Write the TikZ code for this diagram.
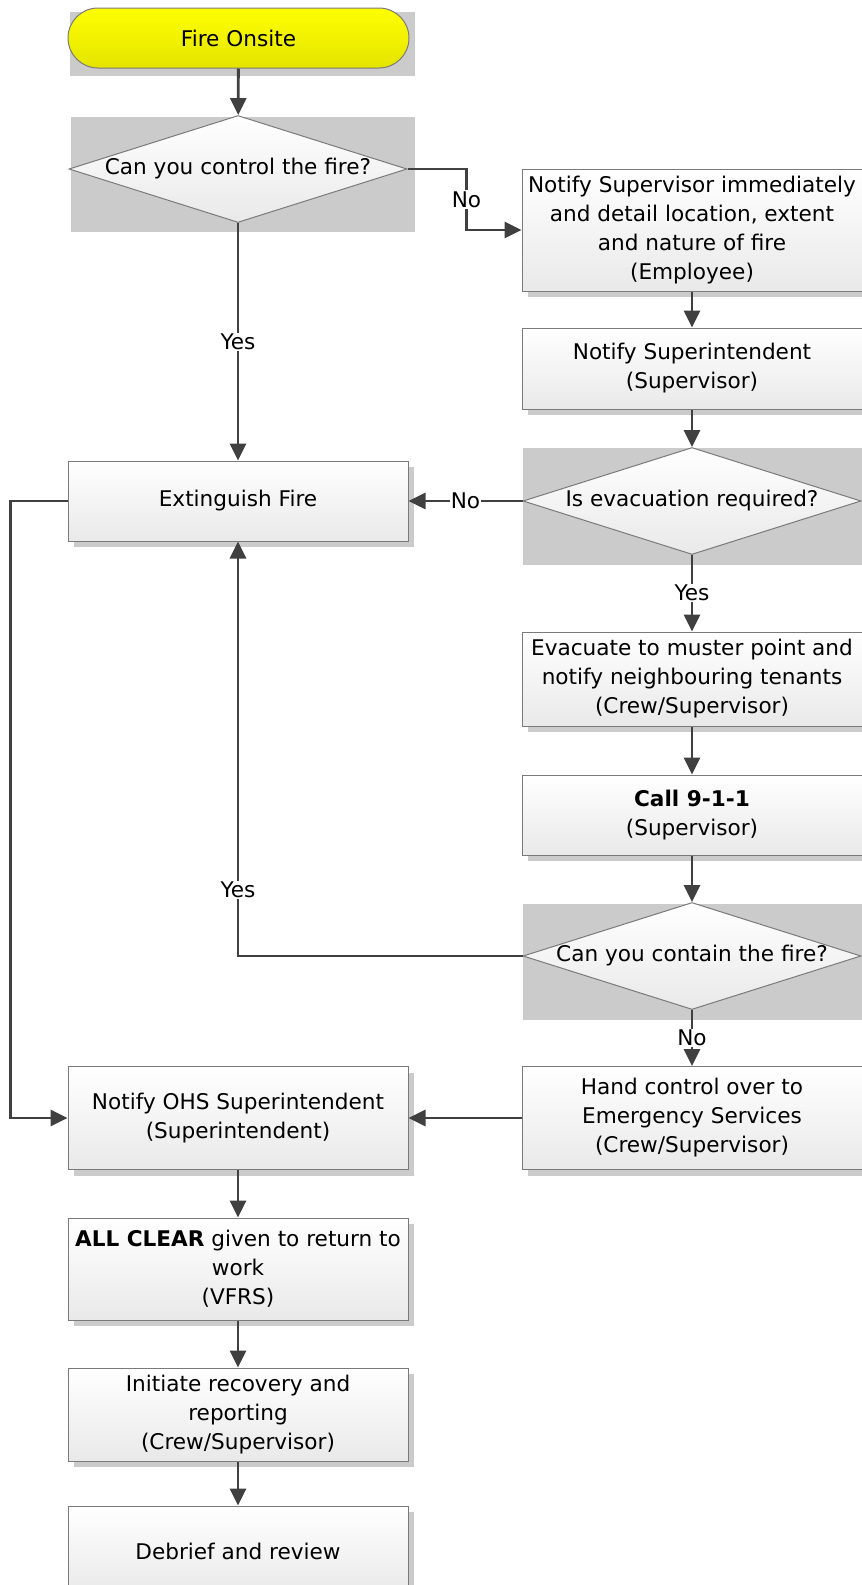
\documentclass[tikz,border=0pt]{standalone}
\usepackage{fontspec}
\setmainfont{DejaVu Sans}
\usetikzlibrary{arrows.meta,shapes.geometric,shadows,calc,backgrounds}
\definecolor{linegray}{HTML}{404040}
\definecolor{edgegray}{HTML}{7A7A7A}
\definecolor{shadegray}{HTML}{CBCBCB}
\definecolor{boxbottom}{HTML}{E9E9E9}
\definecolor{fireyellow}{HTML}{FFFF00}
\definecolor{fireyellowdark}{HTML}{E4E400}
\begin{document}
\begin{tikzpicture}[x=1pt,y=-1pt,
	every node/.style={font=\fontsize{21.6}{29}\selectfont},
	procbox/.style={rectangle,draw=edgegray,line width=1pt,top color=white,bottom color=boxbottom,
		minimum width=340pt,align=center,inner sep=2pt,
		drop shadow={shadow xshift=6pt,shadow yshift=-6pt,fill=shadegray,opacity=1}},
	decision/.style={diamond,draw=edgegray,line width=1pt,top color=white,bottom color=boxbottom,
		minimum width=338pt,minimum height=107pt,inner sep=0pt},
	terminal/.style={rectangle,rounded corners=30pt,draw=edgegray,line width=1pt,
		top color=fireyellow,bottom color=fireyellowdark,minimum width=341pt,minimum height=60pt},
	flow/.style={draw=linegray,line width=2.8pt,-{Triangle[length=17pt,width=16pt]}},
	answer/.style={fill=white,inner sep=1pt}]
	\useasboundingbox (0,0) rectangle (862,1585);
	\node[terminal] (start) at (238.5,38) {Fire Onsite};
	\node[decision,label=center:{Can you control the fire?}] (controlq) at (238,169) {};
	\node[procbox,minimum height=122pt] (notsup) at (692,230) {Notify Supervisor immediately\\and detail location, extent\\and nature of fire\\(Employee)};
	\node[procbox,minimum height=81pt] (notsupt) at (692,368.5) {Notify Superintendent\\(Supervisor)};
	\node[decision,label=center:{Is evacuation required?}] (evacq) at (692,501) {};
	\node[procbox,minimum height=80pt] (ext) at (238,501) {Extinguish Fire};
	\node[procbox,minimum height=94pt] (evac) at (692,679) {Evacuate to muster point and\\notify neighbouring tenants\\(Crew/Supervisor)};
	\node[procbox,minimum height=80pt] (call) at (692,815) {\textbf{Call 9-1-1}\\(Supervisor)};
	\node[decision,label=center:{Can you contain the fire?}] (containq) at (692,956) {};
	\node[procbox,minimum height=103pt] (hand) at (692,1118) {Hand control over to\\Emergency Services\\(Crew/Supervisor)};
	\node[procbox,minimum height=103pt] (ohs) at (238,1118) {Notify OHS Superintendent\\(Superintendent)};
	\node[procbox,minimum height=102pt] (clear) at (238,1269) {\textbf{ALL CLEAR} given to return to\\work\\(VFRS)};
	\node[procbox,minimum height=93pt] (init) at (238,1414.5) {Initiate recovery and\\reporting\\(Crew/Supervisor)};
	\node[procbox,minimum height=90pt] (debrief) at (238,1551) {Debrief and review};
	\begin{scope}[on background layer]
		\fill[shadegray] ($(start.west |- start.north)+(2,4)$) rectangle ($(start.east |- start.south)+(5,7)$);
		\fill[shadegray] ($(controlq.west |- controlq.north)+(2,2)$) rectangle ($(controlq.east |- controlq.south)+(7,9)$);
		\fill[shadegray] ($(evacq.west |- evacq.north)+(0,1)$) rectangle ($(evacq.east |- evacq.south)+(7,10)$);
		\fill[shadegray] ($(containq.west |- containq.north)+(0,2)$) rectangle ($(containq.east |- containq.south)+(7,10)$);
	\end{scope}
	\draw[flow] (start) -- (controlq);
	\draw[flow] (controlq) -- node[answer]{Yes} (ext);
	\draw[flow] (controlq.east) -- ++(59,0) |- node[answer,pos=0.25]{No} (notsup.west);
	\draw[flow] (notsup) -- (notsupt);
	\draw[flow] (notsupt) -- (evacq);
	\draw[flow] (evacq.west) -- node[answer]{No} (ext.east);
	\draw[flow] (evacq) -- node[answer]{Yes} (evac);
	\draw[flow] (evac) -- (call);
	\draw[flow] (call) -- (containq);
	\draw[flow] (containq.west) -| node[answer,pos=0.58]{Yes} (ext.south);
	\draw[flow] (containq) -- node[answer]{No} (hand);
	\draw[flow] (hand) -- (ohs);
	\draw[flow] (ext.west) -- ++(-57,0) |- (ohs.west);
	\draw[flow] (ohs) -- (clear);
	\draw[flow] (clear) -- (init);
	\draw[flow] (init) -- (debrief);
\end{tikzpicture}
\end{document}
